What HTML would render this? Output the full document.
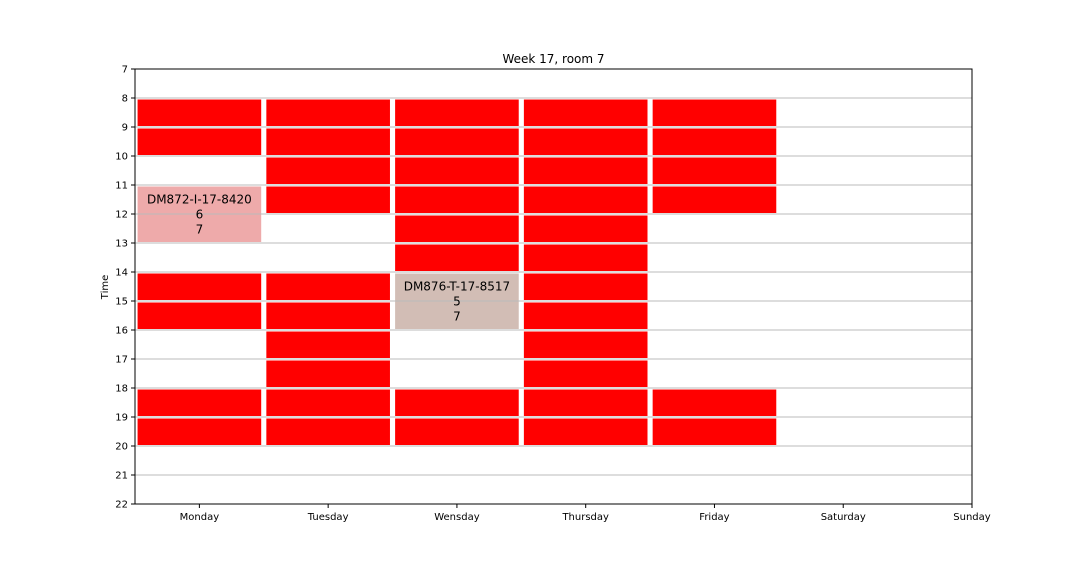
<!DOCTYPE html>
<html><head><meta charset="utf-8"><style>
body{margin:0;background:#fff;}
svg text{font-family:"DejaVu Sans","Liberation Sans",sans-serif;fill:#000;}
</style></head><body>
<svg width="1080" height="576" id="chart">
</svg>
<script>
const days = ["Monday","Tuesday","Wensday","Thursday","Friday","Saturday","Sunday"];
const yTicks = [7,8,9,10,11,12,13,14,15,16,17,18,19,20,21,22];
const busyDay = [0,0,0,0,0,0, 1,1,1,1,1,1,1,1,1,1, 2,2,2,2,2,2,2,2, 3,3,3,3,3,3,3,3,3,3,3,3, 4,4,4,4,4,4];
const busyHour = [8,9,14,15,18,19, 8,9,10,11,14,15,16,17,18,19, 8,9,10,11,12,13,18,19, 8,9,10,11,12,13,14,15,16,17,18,19, 8,9,10,11,18,19];
const labelDay = [0,2];
const labelStart = [11,14];
const labelEnd = [13,16];
const labelText = [["DM872-I-17-8420","6","7"],["DM876-T-17-8517","5","7"]];
const labelColor = ["#eeaaaa","#d2bdb5"];

const NS="http://www.w3.org/2000/svg";
const svg=document.getElementById('chart');
const L=135,R=972,T=69,B=504;
const x=v=>L+(v-0.5)/6.5*(R-L);
const y=v=>T+(v-7)/15*(B-T);
function mk(tag,attrs,parent){const e=document.createElementNS(NS,tag);for(const k in attrs)e.setAttribute(k,attrs[k]);(parent||svg).appendChild(e);return e;}
const bw=0.96*(R-L)/6.5;
for(let i=0;i<busyDay.length;i++){
  const r=mk('rect',{x:x(busyDay[i]+1)-bw/2,y:y(busyHour[i])+1.5,width:bw,height:y(busyHour[i]+1)-y(busyHour[i])-2.5,fill:'#ff0000'});
  
  
}
for(let i=0;i<labelDay.length;i++){
  const r=mk('rect',{x:x(labelDay[i]+1)-bw/2,y:y(labelStart[i])+1.5,width:bw,height:y(labelEnd[i])-y(labelStart[i])-2.5,fill:labelColor[i]});
  
  
}
for(const t of yTicks){
  if(t>7&&t<22){const g=mk('line',{x1:L,x2:R,y1:y(t),y2:y(t),stroke:'#bbbbbb','stroke-width':1});
  
  }
}
for(let i=0;i<labelDay.length;i++){
  const cy=(y(labelStart[i])+y(labelEnd[i]))/2;
  labelText[i].forEach((s,j)=>{
    const tx=mk('text',{x:x(labelDay[i]+1),y:cy+(j-1)*15+4.5,'text-anchor':'middle','font-size':12});
    tx.textContent=s;
    
    
  });
}
const frame=mk('rect',{x:L,y:T,width:R-L,height:B-T,fill:'none',stroke:'#000','stroke-width':1});


for(const t of yTicks){
  mk('line',{x1:L-4,x2:L,y1:y(t),y2:y(t),stroke:'#000'});
  const tx=mk('text',{x:L-7,y:y(t)+3.5,'text-anchor':'end','font-size':10});
  tx.textContent=t;
  
  
}
days.forEach((d,i)=>{
  mk('line',{x1:x(i+1),x2:x(i+1),y1:B,y2:B+4,stroke:'#000'});
  const tx=mk('text',{x:x(i+1),y:B+16,'text-anchor':'middle','font-size':10});
  tx.textContent=d;
  
  
});
const title=mk('text',{x:(L+R)/2,y:63,'text-anchor':'middle','font-size':12});
title.textContent='Week 17, room 7';


const yl=mk('text',{x:0,y:0,'text-anchor':'middle','font-size':10,transform:'translate(108,287) rotate(-90)'});
yl.textContent='Time';


</script>
</body></html>
